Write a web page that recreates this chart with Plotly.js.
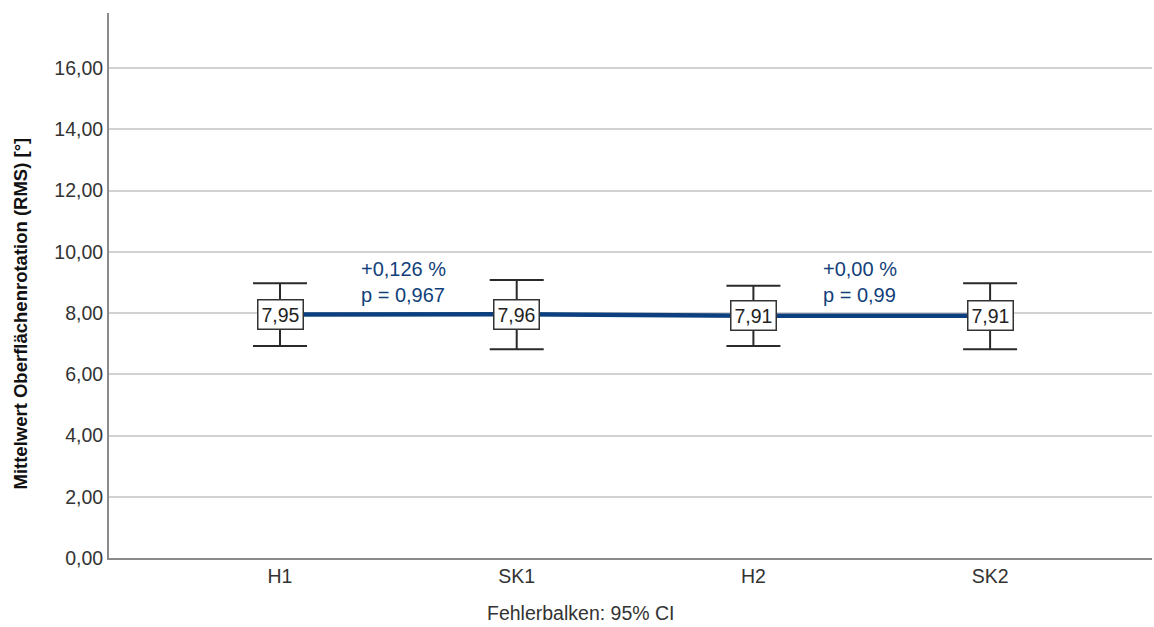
<!DOCTYPE html>
<html>
<head>
<meta charset="utf-8">
<script src="https://cdn.plot.ly/plotly-3.0.1.min.js"></script>
<style>html,body{margin:0;padding:0;background:#fff;}#chart{width:1154px;height:627px;}</style>
</head>
<body>
<div id="chart"></div>
<script>
const categories = ["H1", "SK1", "H2", "SK2"];
const means = [7.95, 7.96, 7.91, 7.91];
const meanLabels = ["7,95", "7,96", "7,91", "7,91"];
const ciUpper = [8.97, 9.08, 8.89, 8.97];
const ciLower = [6.92, 6.82, 6.92, 6.82];
const yTickVals = [0, 2, 4, 6, 8, 10, 12, 14, 16];
const yTickText = ["0,00", "2,00", "4,00", "6,00", "8,00", "10,00", "12,00", "14,00", "16,00"];
const comparisonText = ["+0,126 %<br>p = 0,967", "+0,00 %<br>p = 0,99"];
const comparisonX = [0.52, 2.45];
const comparisonY = [9.0, 9.0];
const xTitle = "Fehlerbalken: 95% CI";
const yTitle = "Mittelwert Oberflächenrotation (RMS) [°]";

const FONT = "Liberation Sans, Arial, sans-serif";
const xIdx = categories.map((c, i) => i);
const errPlus = ciUpper.map((u, i) => u - means[i]);
const errMinus = ciLower.map((l, i) => means[i] - l);

const traces = [
  {
    x: xIdx, y: means, type: "scatter", mode: "lines",
    line: {color: "#0b3f7e", width: 4.5},
    error_y: {type: "data", array: errPlus, arrayminus: errMinus, visible: true,
              color: "#2a2a2a", thickness: 2, width: 27},
    hoverinfo: "skip", showlegend: false
  }
];

const annotations = [];
means.forEach((m, i) => {
  annotations.push({
    x: xIdx[i], y: m, xref: "x", yref: "y", text: meanLabels[i], showarrow: false,
    font: {family: FONT, size: 19.5, color: "#222"},
    bgcolor: "#ffffff", bordercolor: "#333333", borderwidth: 1.5, borderpad: 3,
    xanchor: "center", yanchor: "middle"
  });
});
comparisonText.forEach((t, i) => {
  annotations.push({
    x: comparisonX[i], y: comparisonY[i], xref: "x", yref: "y", text: t, showarrow: false,
    align: "left", xanchor: "center", yanchor: "middle",
    font: {family: FONT, size: 20, color: "#123f7a"}
  });
});
// axis titles, centered on the full picture as in the reference
annotations.push({
  x: (581 - 109) / 1043, y: -(613 - 558) / 545, xref: "paper", yref: "paper",
  text: xTitle, showarrow: false, xanchor: "center", yanchor: "middle",
  font: {family: FONT, size: 19.5, color: "#333"}
});
annotations.push({
  x: -(109 - 20) / 1043, y: (558 - 313.5) / 545, xref: "paper", yref: "paper",
  text: "<b>" + yTitle + "</b>", showarrow: false, xanchor: "center", yanchor: "middle",
  textangle: -90, font: {family: FONT, size: 18.5, color: "#111"}
});

const layout = {
  width: 1154, height: 627,
  margin: {l: 109, r: 2, t: 13, b: 69},
  paper_bgcolor: "#ffffff", plot_bgcolor: "#ffffff",
  font: {family: FONT, size: 19.5, color: "#333"},
  xaxis: {
    range: [-0.7225, 3.684], tickvals: xIdx, ticktext: categories,
    showgrid: false, zeroline: false, showline: true, linecolor: "#8a8a8a", linewidth: 2,
    ticks: "", tickfont: {size: 19.5, color: "#333"}
  },
  yaxis: {
    range: [0, 17.8], tickvals: yTickVals, ticktext: yTickText,
    showgrid: true, gridcolor: "#d2d2d2", gridwidth: 2, zeroline: false,
    showline: true, linecolor: "#8a8a8a", linewidth: 2, ticks: "",
    tickfont: {size: 19.5, color: "#333"}
  },
  annotations: annotations,
  showlegend: false
};

Plotly.newPlot("chart", traces, layout, {displayModeBar: false, staticPlot: true});
</script>
</body>
</html>
